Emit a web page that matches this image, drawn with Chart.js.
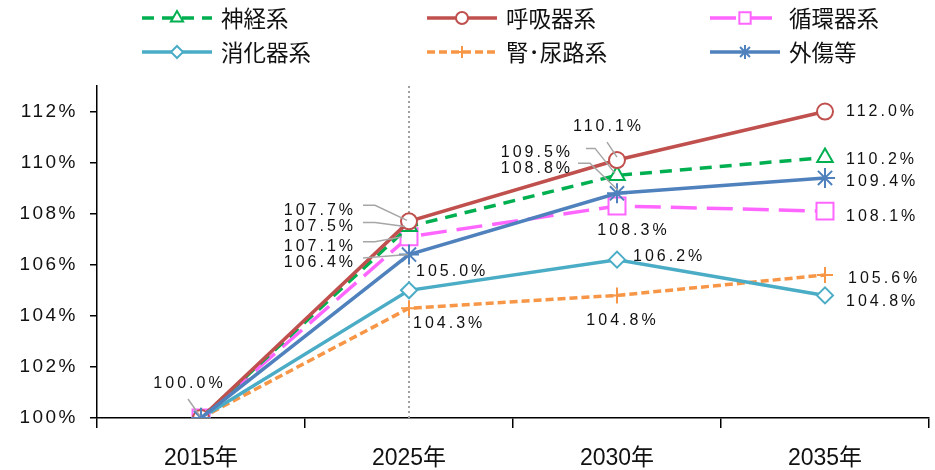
<!DOCTYPE html>
<html>
<head>
<meta charset="utf-8">
<script src="https://cdn.jsdelivr.net/npm/chart.js"></script>
<style>
  html, body { margin: 0; padding: 0; background: #fff; }
  #wrap { width: 935px; height: 470px; position: relative; }
</style>
</head>
<body>
<div id="wrap"><canvas id="myChart"></canvas></div>
<script>
// data (index 2015 = 100%)
const years = ['2015年', '2025年', '2030年', '2035年'];
const names = ['神経系', '呼吸器系', '循環器系', '消化器系', '腎･尿路系', '外傷等'];
const shinkei = [100, 107.5, 109.5, 110.2];
const kokyu   = [100, 107.7, 110.1, 112.0];
const junkan  = [100, 107.1, 108.3, 108.1];
const shoka   = [100, 105.0, 106.2, 104.8];
const jinnyo  = [100, 104.3, 104.8, 105.6];
const gaisho  = [100, 106.4, 108.8, 109.4];

// label placement per dataset / point: [align, dx, dy, leader line points]
const labelPos = [
  [null, ['right', -56, 0, [[-46, -4], [-34, -4], [-4, 0]]], ['right', -47, -23, [[-31, -27], [-22, -27], [-2, -2]]], ['left', 21, 2]],
  [null, ['right', -56, -11, [[-46, -16], [-34, -16], [-2, -1]]], ['center', -10, -33, [[-10, -18], [0, -3]]], ['left', 21, 0]],
  [null, ['right', -56, 10, [[-46, 5], [-34, 5], [-7, 0]]], ['center', 15, 25], ['left', 21, 5]],
  [null, ['left', 7, -19], ['left', 16, -3], ['left', 21, 6]],
  [null, ['left', 4, 15], ['center', 4, 25], ['left', 23, 4]],
  [['center', -13, -34, [[-13, -19], [-1, -2]]], ['right', -56, 8, [[-46, 3.5], [-1, 0]]], ['right', -47, -25, [[-39, -30], [-27, -30], [1, -3]]], ['left', 21, 4]]
];

function line(i, data, color, dash, style, r, order) {
  return {
    label: names[i],
    data: data,
    borderColor: color,
    borderWidth: 3.5,
    borderDash: dash,
    pointStyle: style,
    pointRadius: r,
    pointBorderWidth: 2,
    pointBorderColor: color,
    pointBackgroundColor: '#fff',
    tension: 0,
    order: order
  };
}

const spacing = {
  id: 'spacing',
  beforeDraw(chart) { chart.ctx.letterSpacing = '0px'; },
  afterDatasetsDraw(chart) { chart.ctx.letterSpacing = '2.5px'; }
};

const dotted = {
  id: 'dotted',
  beforeDatasetsDraw(chart) {
    const ctx = chart.ctx, a = chart.chartArea;
    const x = chart.scales.x.getPixelForValue(1);
    ctx.save();
    ctx.strokeStyle = '#a0a0a0';
    ctx.lineWidth = 2;
    ctx.setLineDash([2, 3]);
    ctx.beginPath();
    ctx.moveTo(x, a.top);
    ctx.lineTo(x, a.bottom);
    ctx.stroke();
    ctx.restore();
  }
};

const valueLabels = {
  id: 'valueLabels',
  afterDraw(chart) {
    const ctx = chart.ctx;
    ctx.save();
    ctx.letterSpacing = '3px';
    ctx.font = '16px "Liberation Sans", Arial, sans-serif';
    ctx.textBaseline = 'middle';
    chart.data.datasets.forEach((ds, i) => {
      const meta = chart.getDatasetMeta(i);
      meta.data.forEach((pt, j) => {
        const c = labelPos[i][j];
        if (!c) return;
        if (c[3]) {
          ctx.strokeStyle = '#a6a6a6';
          ctx.lineWidth = 1.5;
          ctx.setLineDash([]);
          ctx.beginPath();
          c[3].forEach((p, k) => {
            if (k === 0) ctx.moveTo(pt.x + p[0], pt.y + p[1]);
            else ctx.lineTo(pt.x + p[0], pt.y + p[1]);
          });
          ctx.stroke();
        }
        let x = pt.x + c[1];
        if (c[0] === 'right') x += 3;
        if (c[0] === 'center') x += 1.5;
        ctx.textAlign = c[0];
        ctx.fillStyle = '#111';
        ctx.fillText(ds.data[j].toFixed(1) + '%', x, pt.y + c[2]);
      });
    });
    ctx.restore();
  }
};

// legend: line + marker, 3 columns x 2 rows
const legendCols = [142, 427, 710];
const legendRows = [18, 52];
const legendRadius = [7, 6, 8, 6, 6, 7];
const myLegend = {
  id: 'myLegend',
  afterDraw(chart) {
    const ctx = chart.ctx;
    ctx.save();
    ctx.letterSpacing = '0px';
    chart.data.datasets.forEach((ds, i) => {
      const x0 = legendCols[i % 3];
      const y = legendRows[Math.floor(i / 3)];
      ctx.strokeStyle = ds.borderColor;
      ctx.lineWidth = 3.5;
      ctx.setLineDash(ds.borderDash || []);
      ctx.beginPath();
      ctx.moveTo(x0, y);
      ctx.lineTo(x0 + 70, y);
      ctx.stroke();
      ctx.setLineDash([]);
      ctx.lineWidth = 2;
      ctx.fillStyle = '#fff';
      if (Chart.helpers && Chart.helpers.drawPoint) {
        Chart.helpers.drawPoint(ctx, { pointStyle: ds.pointStyle, radius: legendRadius[i], borderWidth: 2, rotation: 0 }, x0 + 35, y);
      } else {
        ctx.beginPath();
        ctx.arc(x0 + 35, y, 5, 0, Math.PI * 2);
        ctx.fill();
        ctx.stroke();
      }
      ctx.fillStyle = '#111';
      ctx.font = '22.5px "Noto Sans CJK JP", sans-serif';
      ctx.textAlign = 'left';
      ctx.textBaseline = 'middle';
      ctx.fillText(ds.label, x0 + 79, y);
    });
    ctx.restore();
  }
};

const ctx = document.getElementById('myChart').getContext('2d');
const myChart = new Chart(ctx, {
  type: 'line',
  data: {
    labels: years,
    datasets: [
      line(0, shinkei, '#00b050', [12, 8], 'triangle', 9, 3),
      line(1, kokyu, '#c0504d', [], 'circle', 8, 1),
      line(2, junkan, '#ff66ff', [26, 10], 'rect', 12, 4),
      line(3, shoka, '#4bacc6', [], 'rectRot', 8, 5),
      line(4, jinnyo, '#f79646', [8, 4], 'cross', 8, 6),
      line(5, gaisho, '#4f81bd', [], 'star', 10, 0)
    ]
  },
  options: {
    responsive: true,
    maintainAspectRatio: false,
    animation: false,
    layout: { autoPadding: false, padding: { top: 86, right: 6, left: 0, bottom: 0 } },
    plugins: {
      legend: { display: false },
      tooltip: { enabled: false }
    },
    scales: {
      x: {
        offset: true,
        grid: { offset: true, drawOnChartArea: false, tickLength: 10, color: '#000', lineWidth: 1.5 },
        border: { color: '#000', width: 1.5 },
        ticks: {
          color: '#111',
          padding: 17,
          maxRotation: 0,
          font: { size: 23, family: '"Liberation Sans", "Noto Sans CJK JP", sans-serif' }
        },
        afterFit(scale) { scale.height = 52; }
      },
      y: {
        min: 100,
        max: 113,
        grid: { drawOnChartArea: false, tickLength: 7, color: '#000', lineWidth: 1.5 },
        border: { color: '#000', width: 1.5 },
        ticks: {
          z: 1,
          stepSize: 2,
          includeBounds: false,
          color: '#111',
          padding: 12,
          font: { size: 19, family: '"Liberation Sans", Arial, sans-serif' },
          callback: v => v + '%'
        },
        afterFit(scale) { scale.width = 97; }
      }
    }
  },
  plugins: [spacing, dotted, valueLabels, myLegend]
});
</script>
</body>
</html>
